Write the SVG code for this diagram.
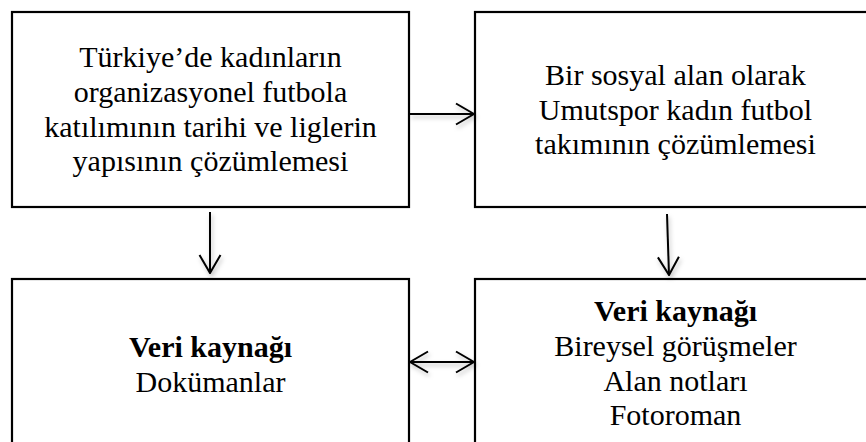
<svg xmlns="http://www.w3.org/2000/svg" width="866" height="442" viewBox="0 0 866 442">
<style>
.box{fill:#fff;stroke:#000;stroke-width:2.2}
.t{font-family:"Liberation Serif","Times New Roman",serif;font-size:30px;fill:#000;text-anchor:middle}
.b{font-weight:bold}
.c{stroke:#000;stroke-width:2;fill:none}
</style>
<defs>
<marker id="ah" viewBox="0 0 20 24" refX="19" refY="12" markerWidth="20" markerHeight="24" markerUnits="userSpaceOnUse" orient="auto-start-reverse">
<path d="M1,1.5 L19,12 L1,22.5" fill="none" stroke="#000" stroke-width="2"/>
</marker>
<filter id="sh" x="-20%" y="-20%" width="140%" height="160%">
<feDropShadow dx="1.5" dy="3" stdDeviation="2" flood-color="#000" flood-opacity="0.25"/>
</filter>
</defs>
<g id="n1">
<rect class="box" x="12" y="12" width="397" height="195"/>
<text class="t" x="210.5" y="66.5">Türkiye’de kadınların</text>
<text class="t" x="210.5" y="101.5">organizasyonel futbola</text>
<text class="t" x="210.5" y="136.5">katılımının tarihi ve liglerin</text>
<text class="t" x="210.5" y="170.5">yapısının çözümlemesi</text>
</g>
<g id="n2">
<rect class="box" x="475" y="12" width="401" height="195"/>
<text class="t" x="675.5" y="85">Bir sosyal alan olarak</text>
<text class="t" x="675.5" y="120">Umutspor kadın futbol</text>
<text class="t" x="675.5" y="154">takımının çözümlemesi</text>
</g>
<g id="n3">
<rect class="box" x="12" y="279" width="397" height="180"/>
<text class="t b" x="210.5" y="356.5">Veri kaynağı</text>
<text class="t" x="210.5" y="391.5">Dokümanlar</text>
</g>
<g id="n4">
<rect class="box" x="475" y="279" width="401" height="180"/>
<text class="t b" x="675.5" y="320.5">Veri kaynağı</text>
<text class="t" x="675.5" y="355.5">Bireysel görüşmeler</text>
<text class="t" x="675.5" y="390.5">Alan notları</text>
<text class="t" x="675.5" y="425">Fotoroman</text>
</g>
<g id="connectors" filter="url(#sh)">
<line class="c" x1="410" y1="114" x2="474" y2="114" marker-end="url(#ah)"/>
<line class="c" x1="210" y1="212" x2="210" y2="273" marker-end="url(#ah)"/>
<line class="c" x1="667" y1="214" x2="669" y2="275" marker-end="url(#ah)"/>
<line class="c" x1="410" y1="362" x2="474" y2="362" marker-start="url(#ah)" marker-end="url(#ah)"/>
</g>
</svg>
